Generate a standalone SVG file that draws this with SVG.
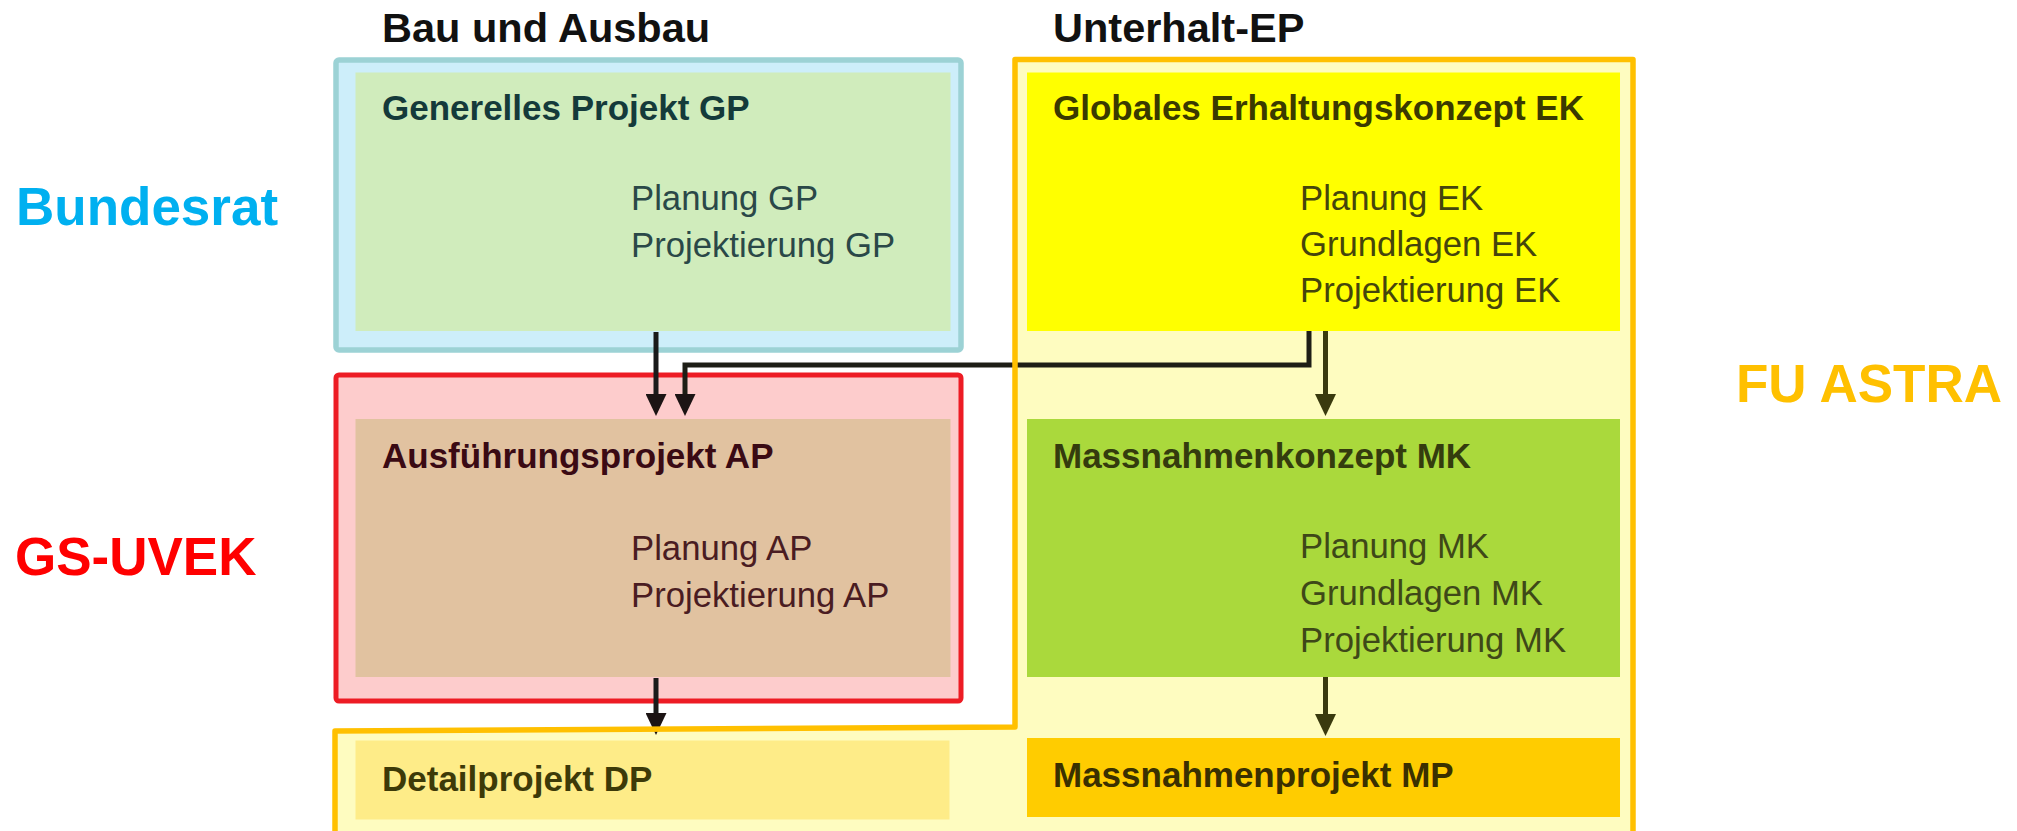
<svg xmlns="http://www.w3.org/2000/svg" width="2017" height="831" viewBox="0 0 2017 831">
<style>
text{font-family:"Liberation Sans",Arial,Helvetica,sans-serif}
.hd{font-size:41.5px;font-weight:bold;fill:#111111}
.side{font-size:53px;font-weight:bold}
.ttl{font-size:35px;font-weight:bold}
.sub{font-size:34.7px}
.con{fill:none;stroke-width:5}
</style>
<defs>
<marker id="ahL" markerUnits="userSpaceOnUse" markerWidth="22" markerHeight="21" refX="0" refY="10.5" orient="auto"><path d="M0,0 L22,10.5 L0,21 z" fill="#1c1414"/></marker>
<marker id="ahR" markerUnits="userSpaceOnUse" markerWidth="22" markerHeight="21" refX="0" refY="10.5" orient="auto"><path d="M0,0 L22,10.5 L0,21 z" fill="#3a3a0e"/></marker>
</defs>
<rect width="2017" height="831" fill="#ffffff"/>

<g id="headers">
<text class="hd" x="382" y="42">Bau und Ausbau</text>
<text class="hd" x="1053" y="42">Unterhalt-EP</text>
</g>

<g id="bundesrat">
<text class="side" x="16" y="225" fill="#00b0f0">Bundesrat</text>
<rect x="336" y="60" width="625" height="290" rx="3" fill="#cdeefa" stroke="#9cd2d5" stroke-width="5.5"/>
</g>

<g id="gs-uvek">
<text class="side" x="15" y="575" fill="#ff0000">GS-UVEK</text>
<rect x="336" y="375" width="625" height="326" rx="3" fill="#fdcccc" stroke="#ed1c24" stroke-width="5"/>
</g>

<g id="fu-astra-fill">
<path d="M1015,59.5 H1633 V845 H335 V731 L1015,727 Z" fill="#fefcc0"/>
</g>

<g id="gp">
<rect x="355.5" y="72.5" width="595" height="258.5" fill="#d0ecbc"/>
<text class="ttl" x="382" y="120" fill="#143a3a">Generelles Projekt GP</text>
<text class="sub" x="631" y="210" fill="#2a4848">Planung GP</text>
<text class="sub" x="631" y="257" fill="#2a4848">Projektierung GP</text>
</g>

<g id="ap">
<rect x="355.5" y="419" width="595" height="258" fill="#e1c2a0"/>
<text class="ttl" x="382" y="468" fill="#3a0a14">Ausführungsprojekt AP</text>
<text class="sub" x="631" y="560" fill="#4a1c22">Planung AP</text>
<text class="sub" x="631" y="607" fill="#4a1c22">Projektierung AP</text>
</g>

<g id="dp">
<rect x="355.5" y="740.5" width="594" height="79" fill="#feec88"/>
<text class="ttl" x="382" y="791" fill="#3d3a08">Detailprojekt DP</text>
</g>

<g id="ek">
<rect x="1027" y="72.5" width="593" height="258.5" fill="#ffff00"/>
<text class="ttl" x="1053" y="120" fill="#3a3a00">Globales Erhaltungskonzept EK</text>
<text class="sub" x="1300" y="210" fill="#45450c">Planung EK</text>
<text class="sub" x="1300" y="256" fill="#45450c">Grundlagen EK</text>
<text class="sub" x="1300" y="302" fill="#45450c">Projektierung EK</text>
</g>

<g id="mk">
<rect x="1027" y="419" width="593" height="258" fill="#aad93c"/>
<text class="ttl" x="1053" y="468" fill="#343c0e">Massnahmenkonzept MK</text>
<text class="sub" x="1300" y="558" fill="#3e4818">Planung MK</text>
<text class="sub" x="1300" y="605" fill="#3e4818">Grundlagen MK</text>
<text class="sub" x="1300" y="652" fill="#3e4818">Projektierung MK</text>
</g>

<g id="mp">
<rect x="1027" y="738" width="593" height="79" fill="#ffcc00"/>
<text class="ttl" x="1053" y="787" fill="#3a3000">Massnahmenprojekt MP</text>
</g>

<g id="connectors">
<path class="con" stroke="#1a1a1a" d="M656,332 V394" marker-end="url(#ahL)"/>
<path class="con" stroke="#1e1e16" d="M1309,331 V365 H685 V394" marker-end="url(#ahL)"/>
<path class="con" stroke="#3a3a0e" d="M1325.5,331 V394" marker-end="url(#ahR)"/>
<path class="con" stroke="#1a1a1a" d="M656,678 V713" marker-end="url(#ahL)"/>
<path class="con" stroke="#3a3a0e" d="M1325.5,677 V714" marker-end="url(#ahR)"/>
</g>

<g id="fu-astra">
<path d="M1015,59.5 H1633 V845 H335 V731 L1015,727 Z" fill="none" stroke="#ffc000" stroke-width="5.5" stroke-linejoin="round"/>
<text class="side" x="1736" y="402" fill="#ffc000">FU ASTRA</text>
</g>
</svg>
